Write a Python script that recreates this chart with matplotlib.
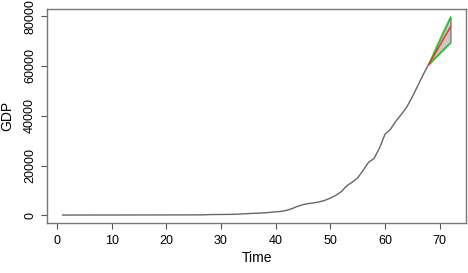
import matplotlib
matplotlib.use('Agg')
import matplotlib.pyplot as plt
import numpy as np

# observed series, t = 1..68
gdp = [100, 105, 110, 110, 115, 115, 120, 120, 125, 125,
       130, 130, 135, 135, 140, 140, 145, 150, 150, 155,
       160, 165, 170, 175, 180, 185, 190, 300, 320, 340,
       360, 380, 450, 600, 700, 800, 900, 1000, 1200, 1400,
       1600, 2000, 2700, 3600, 4300, 4700, 5000, 5400, 6000, 6900,
       8000, 9500, 11800, 13300, 15000, 18000, 21300, 22800, 27000, 32500,
       34500, 37800, 40500, 43500, 47500, 52000, 56500, 60600]
time = np.arange(1, len(gdp) + 1)

# forecast, t = 68..72
fc_time = [68, 69, 70, 71, 72]
fc_mean = [60600, 64300, 68100, 71900, 75700]
fc_upper = [60600, 65600, 70400, 75100, 79700]
fc_lower = [60600, 62900, 65100, 67300, 69400]

plt.rcParams['font.family'] = ['Liberation Sans', 'DejaVu Sans']

fig = plt.figure(figsize=(4.68, 2.73), dpi=100)
ax = fig.add_axes([47/468, 1 - 223/273, 419/468, 214/273])

ax.plot(time, gdp, color='#666666', lw=1.0)
ax.fill_between(fc_time, fc_lower, fc_upper, facecolor='#c8c8c8',
                edgecolor='#666666', lw=0.8)
ax.plot(fc_time, fc_upper, color='#22dd22', lw=1.0)
ax.plot(fc_time, fc_lower, color='#22dd22', lw=1.0)
ax.plot(fc_time, fc_mean, color='#ff2222', lw=1.0)

xmin, xmax = 1, 72
ymin, ymax = 100, 79700
dx = (xmax - xmin) * 0.04
dy = (ymax - ymin) * 0.04
ax.set_xlim(xmin - dx, xmax + dx)
ax.set_ylim(ymin - dy, ymax + dy)

ax.set_xticks(np.arange(0, 71, 10))
ax.set_yticks(np.arange(0, 80001, 20000))
ax.tick_params(axis='both', labelsize=9, length=4.3, width=0.8,
               color='#555555', direction='out')
ax.tick_params(axis='x', pad=4.5)
ax.tick_params(axis='y', pad=3.5)
for lab in ax.get_yticklabels():
    lab.set_rotation(90)
    lab.set_va('center')

for s in ax.spines.values():
    s.set_color('#777777')
    s.set_linewidth(1.0)

ax.set_xlabel('Time', fontsize=10)
ax.set_ylabel('GDP', fontsize=10)
ax.xaxis.set_label_coords(0.5, -0.13)
ax.yaxis.set_label_coords(-0.077, 0.5)

fig.savefig('out.png', dpi=100)
